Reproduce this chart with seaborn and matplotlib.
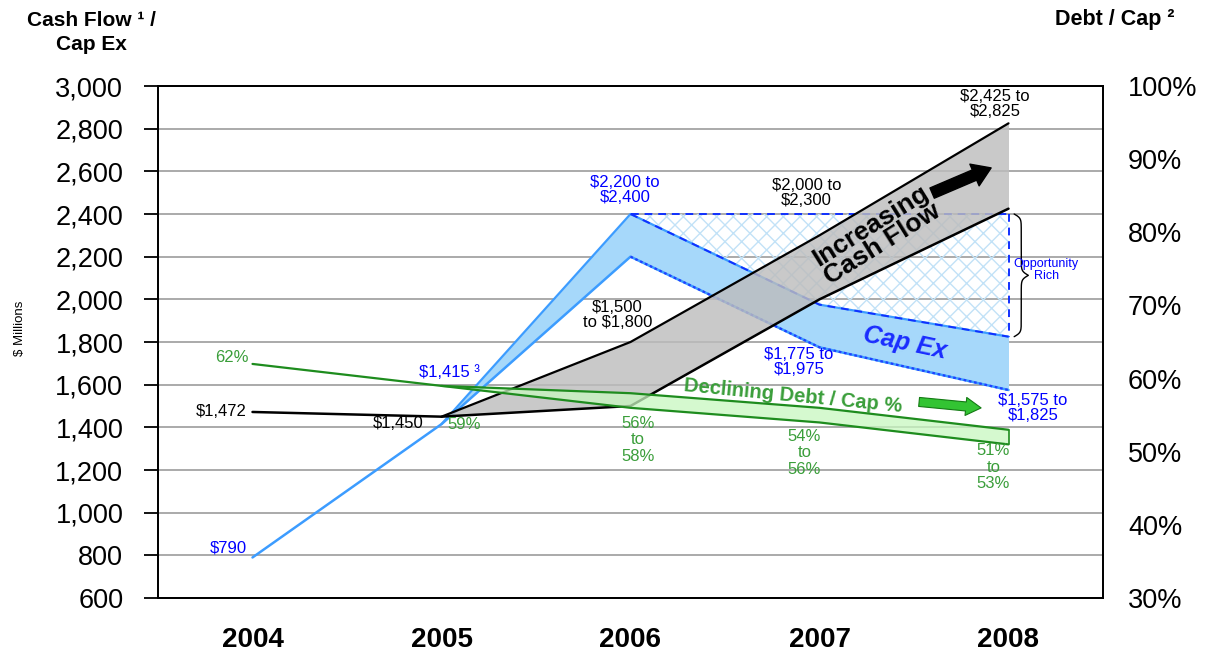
import numpy as np
import pandas as pd
import matplotlib
matplotlib.use("Agg")
import matplotlib.pyplot as plt
import seaborn as sns

# ---- data ----
years = ["2004", "2005", "2006", "2007", "2008"]
cash_flow_low = [1472, 1450, 1500, 2000, 2425]
cash_flow_high = [1472, 1450, 1800, 2300, 2825]
capex_low = [790, 1415, 2200, 1775, 1575]
capex_high = [790, 1415, 2400, 1975, 1825]
debt_cap_low = [62, 59, 56, 54, 51]
debt_cap_high = [62, 59, 58, 56, 53]
left_ticks = list(range(600, 3001, 200))
right_ticks = list(range(30, 101, 10))

sns.set_theme(style="white")
plt.rcParams["font.family"] = ["Liberation Sans", "DejaVu Sans"]
plt.rcParams["hatch.linewidth"] = 1.0
plt.rcParams["text.color"] = "black"
plt.rcParams["xtick.color"] = "black"
plt.rcParams["ytick.color"] = "black"

BLUE_TXT = "#0000ff"
BLUE_EDGE = "#3c9cff"
BLUE_FILL = "#a6d8fa"
GREEN = "#1e8c1e"
GREEN_TXT = "#3a9e3a"
GREEN_FILL = "#c8f7c0"

pos = np.arange(len(years))
fig = plt.figure(figsize=(12.1, 6.55), dpi=100)
ax = fig.add_axes([158 / 1210, 1 - 598 / 655, 945 / 1210, 512 / 655])

ax.set_xlim(-0.5, len(years) - 0.5)
ax.set_ylim(600, 3000)
ax.set_yticks(left_ticks)
ax.set_yticklabels([f"{v:,}" for v in left_ticks], fontsize=19.5, color="black")
ax.set_xticks(pos)
ax.set_xticklabels(years, fontsize=20, fontweight="bold", color="black")
ax.set_xticks(np.arange(-0.5, len(years)), minor=True)
ax.tick_params(axis="x", which="major", length=0, pad=21)
ax.tick_params(axis="x", which="minor", length=7, width=1.3, color="black", direction="out")
ax.tick_params(axis="y", length=10, width=1.3, color="black", direction="out", pad=15, left=True)
ax.yaxis.grid(True, color="#a4a4a4", lw=1.3)
ax.set_axisbelow(True)
for s in ax.spines.values():
    s.set_color("black")
    s.set_linewidth(1.3)

# opportunity area between cap ex and the cap ex peak, hatched
peak = max(capex_high)
ip = int(np.argmax(capex_high))
ax.fill_between(pos[ip:], capex_high[ip:], peak, facecolor="none",
                edgecolor="#c2e2f7", hatch="xx", linewidth=0, zorder=1)

# cap ex band
ax.fill_between(pos[1:], capex_low[1:], capex_high[1:], color=BLUE_FILL, lw=0, zorder=2)
sns.lineplot(x=pos, y=capex_low, ax=ax, color=BLUE_EDGE, lw=1.8, sort=False,
             estimator=None, zorder=3)
sns.lineplot(x=pos[1:], y=capex_high[1:], ax=ax, color=BLUE_EDGE, lw=1.6, sort=False,
             estimator=None, zorder=3)
ax.plot(pos[ip:], capex_low[ip:], color="#2040ff", lw=1.6, ls=(0, (1.2, 1.2)), zorder=3)

# dashed outline of the opportunity area
ax.plot(pos[ip:], capex_high[ip:], color="#1030ff", lw=1.4, ls=(0, (4, 3)), zorder=4)
ax.plot([pos[ip], pos[-1]], [peak, peak], color="#1030ff", lw=1.4, ls=(0, (4, 3)), zorder=4)
ax.plot([pos[-1], pos[-1]], [peak, capex_high[-1]], color="#1030ff", lw=1.4,
        ls=(0, (4, 3)), zorder=4)

# cash flow band
ax.fill_between(pos[1:], cash_flow_low[1:], cash_flow_high[1:], color="#bdbdbd",
                alpha=0.82, lw=0, zorder=5)
sns.lineplot(x=pos, y=cash_flow_low, ax=ax, color="black", lw=1.8, sort=False,
             estimator=None, zorder=6)
sns.lineplot(x=pos[1:], y=cash_flow_high[1:], ax=ax, color="black", lw=1.6, sort=False,
             estimator=None, zorder=6)

# debt / cap on the right axis
ax2 = ax.twinx()
ax2.set_ylim(30, 100)
ax2.set_yticks(right_ticks)
ax2.set_yticklabels([f"{v}%" for v in right_ticks], fontsize=19.5, color="black")
ax2.tick_params(axis="y", length=0, pad=18)
ax2.grid(False)
for s in ax2.spines.values():
    s.set_color("black")
    s.set_linewidth(1.3)
ax2.fill_between(pos[1:], debt_cap_low[1:], debt_cap_high[1:], color=GREEN_FILL,
                 alpha=0.75, lw=0, zorder=2)
sns.lineplot(x=pos, y=debt_cap_high, ax=ax2, color=GREEN, lw=1.6, sort=False,
             estimator=None, zorder=3)
sns.lineplot(x=pos[1:], y=debt_cap_low[1:], ax=ax2, color=GREEN, lw=1.6, sort=False,
             estimator=None, zorder=3)
ax2.plot([pos[-1], pos[-1]], [debt_cap_low[-1], debt_cap_high[-1]], color=GREEN, lw=1.2)

T = ax.transData


def label(x, y, s, color="black", size=12, **kw):
    ax2.text(x, y, s, transform=T, color=color, fontsize=size, ha=kw.pop("ha", "center"),
             va=kw.pop("va", "center"), linespacing=kw.pop("linespacing", 1.0), **kw)


# value labels
label(-0.03, 835, f"${capex_low[0]:,}", BLUE_TXT, ha="right")
label(1.04, 1655, f"${capex_low[1]:,} ³", BLUE_TXT)
label(-0.03, 1472, f"${cash_flow_low[0]:,}", ha="right")
label(0.77, 1420, f"${cash_flow_low[1]:,}")
label(-0.11, 1725, f"{debt_cap_high[0]}%", GREEN_TXT)
label(1.12, 1411, f"{debt_cap_high[1]}%", GREEN_TXT)
label(1.97, 2512, f"${capex_low[2]:,} to\n${capex_high[2]:,}", BLUE_TXT)
label(2.93, 2498, f"${cash_flow_low[3]:,} to\n${cash_flow_high[3]:,}")
label(1.93, 1927, f"${cash_flow_low[2]:,}\nto ${cash_flow_high[2]:,}")
label(2.89, 1706, f"${capex_low[3]:,} to\n${capex_high[3]:,}", BLUE_TXT)
label(4.13, 1491, f"${capex_low[4]:,} to\n${capex_high[4]:,}", BLUE_TXT)
label(3.93, 2916, f"${cash_flow_low[4]:,} to\n${cash_flow_high[4]:,}")
for i, yy in zip([2, 3, 4], [1341, 1280, 1214]):
    label(i + (0.04 if i == 2 else -0.08), yy,
          f"{debt_cap_low[i]}%\nto\n{debt_cap_high[i]}%", GREEN_TXT, linespacing=1.15)

# brace marking the opportunity
s = np.linspace(0, 1, 200)
f = 1 / (1 + np.exp(-30 * s)) + 1 / (1 + np.exp(-30 * (s - 1))) - 0.5
bx = np.concatenate([f, f[::-1]])
mid = (peak + capex_high[-1]) / 2
by = np.concatenate([np.linspace(peak, mid, 200), np.linspace(mid, capex_high[-1], 200)])
ax2.plot(4.03 + 0.075 * bx, by, color="black", lw=1.0, transform=T)
label(4.2, 2137, "Opportunity\nRich", BLUE_TXT, size=9, linespacing=1.0)

# callouts
label(3.30, 2300, "Increasing\nCash Flow", "black", size=19, fontweight="bold",
      rotation=32, linespacing=0.85, rotation_mode="anchor")
label(3.45, 1795, "Cap Ex", "#1a2cff", size=18, fontweight="bold", style="italic",
      rotation=-12, rotation_mode="anchor")
label(2.86, 1547, "Declining Debt / Cap %", GREEN_TXT, size=14.5, fontweight="bold",
      rotation=-5.5, rotation_mode="anchor")
ax2.annotate("", xy=(3.908, 2616), xytext=(3.596, 2498), xycoords=T, textcoords=T,
             arrowprops=dict(arrowstyle="simple,head_length=1.3,head_width=1.7,tail_width=0.8",
                             fc="black", ec="black", shrinkA=0, shrinkB=0, mutation_scale=10))
ax2.annotate("", xy=(3.855, 1491), xytext=(3.527, 1519), xycoords=T, textcoords=T,
             arrowprops=dict(arrowstyle="simple,head_length=1.1,head_width=1.3,tail_width=0.65",
                             fc="#33c433", ec="#137a13", lw=0.8, shrinkA=0, shrinkB=0,
                             mutation_scale=10))

# axis titles
fig.text(91 / 1210, 1 - 20 / 655, "Cash Flow ¹ /", ha="center", va="center",
         fontsize=15, fontweight="bold")
fig.text(91 / 1210, 1 - 45 / 655, "Cap Ex", ha="center", va="center",
         fontsize=15, fontweight="bold")
fig.text(1115 / 1210, 1 - 20 / 655, "Debt / Cap ²", ha="center", va="center",
         fontsize=15.5, fontweight="bold")
fig.text(20 / 1210, 1 - 328 / 655, "$ Millions", ha="center", va="center",
         fontsize=9.5, rotation=90)

fig.savefig("out.png", dpi=100, facecolor="white")
